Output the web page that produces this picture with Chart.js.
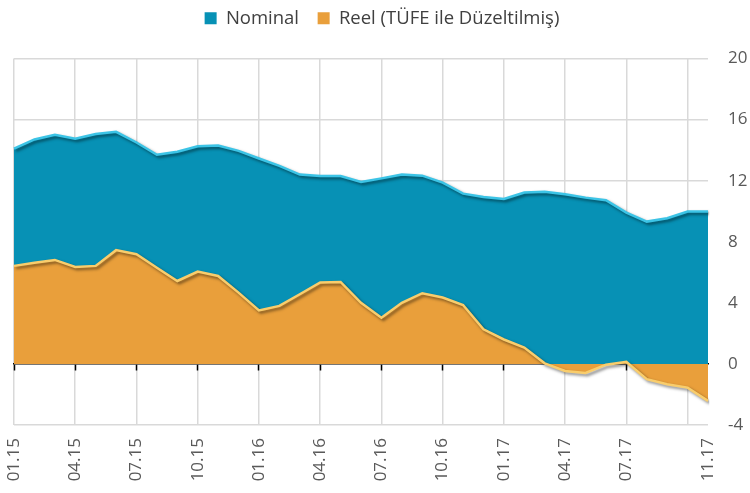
<!DOCTYPE html>
<html>
<head>
<meta charset="utf-8">
<script src="https://cdn.jsdelivr.net/npm/chart.js@4"></script>
<style>
  html, body { margin: 0; padding: 0; background: #fff; }
  #wrap { width: 750px; height: 493px; }
</style>
</head>
<body>
<div id="wrap"><canvas id="chart"></canvas></div>
<script>
// Monthly data, 01.15 - 11.17
const months = [
    '01.15', '02.15', '03.15', '04.15', '05.15', '06.15', '07.15', '08.15', '09.15', '10.15', '11.15', '12.15',
    '01.16', '02.16', '03.16', '04.16', '05.16', '06.16', '07.16', '08.16', '09.16', '10.16', '11.16', '12.16',
    '01.17', '02.17', '03.17', '04.17', '05.17', '06.17', '07.17', '08.17', '09.17', '10.17', '11.17'
];
const nominal = [
    14.1, 14.7, 15.0, 14.75, 15.05, 15.2, 14.5, 13.7, 13.9, 14.25, 14.3, 13.95,
    13.45, 12.97, 12.4, 12.3, 12.3, 11.92, 12.15, 12.4, 12.33, 11.87, 11.15, 10.93,
    10.8, 11.22, 11.28, 11.11, 10.89, 10.72, 9.91, 9.32, 9.54, 9.98, 9.98
];
const reel = [
    6.42, 6.63, 6.81, 6.35, 6.42, 7.45, 7.18, 6.3, 5.43, 6.05, 5.76, 4.67,
    3.5, 3.8, 4.56, 5.33, 5.37, 4.0, 3.03, 4.0, 4.63, 4.35, 3.86, 2.27,
    1.6, 1.07, 0.04, -0.46, -0.59, -0.05, 0.13, -1.0, -1.33, -1.55, -2.42
];
// labels printed under the axis
const shownTicks = ['01.15', '04.15', '07.15', '10.15', '01.16', '04.16', '07.16', '10.16', '01.17', '04.17', '07.17', '11.17'];
const yTicks = [-4, 0, 4, 8, 12, 16, 20];

const FONT = "'Open Sans', sans-serif";

// soft shadow under each area, like the bevel look of the original
const shadowPlugin = {
    id: 'areaShadow',
    beforeDatasetDraw(chart) {
        const ctx = chart.ctx;
        ctx.save();
        ctx.shadowColor = 'rgba(0,0,0,0.5)';
        ctx.shadowBlur = 3;
        ctx.shadowOffsetX = 2;
        ctx.shadowOffsetY = 2;
    },
    afterDatasetDraw(chart) {
        chart.ctx.restore();
    }
};

// more room under the legend
const legendSpace = {
    id: 'legendSpace',
    beforeInit(chart) {
        const fit = chart.legend.fit;
        chart.legend.fit = function () {
            fit.call(this);
            this.height += 21;
        };
    }
};

const ctx = document.getElementById('chart').getContext('2d');
new Chart(ctx, {
    type: 'line',
    data: {
        labels: months,
        datasets: [
            {
                label: 'Nominal',
                data: nominal,
                order: 2,
                fill: 'origin',
                backgroundColor: '#0791b5',
                borderColor: '#3cc4e6',
                borderWidth: 2.5,
                pointRadius: 0,
                tension: 0
            },
            {
                label: 'Reel (TÜFE ile Düzeltilmiş)',
                data: reel,
                order: 1,
                fill: 'origin',
                backgroundColor: '#e99f3b',
                borderColor: '#f9cd6c',
                borderWidth: 2.5,
                pointRadius: 0,
                tension: 0
            }
        ]
    },
    options: {
        responsive: true,
        maintainAspectRatio: false,
        animation: false,
        layout: { padding: { left: 14, right: 0, top: 0, bottom: 2 } },
        plugins: {
            tooltip: { enabled: false },
            legend: {
                position: 'top',
                labels: {
                    sort: (a, b) => a.datasetIndex - b.datasetIndex,
                    generateLabels(chart) {
                        const items = Chart.defaults.plugins.legend.labels.generateLabels(chart);
                        items.forEach(item => {
                            item.lineWidth = 0;
                            item.strokeStyle = 'transparent';
                            if (item.datasetIndex === 0) item.text = item.text + '\u00a0\u00a0';
                        });
                        return items;
                    },
                    boxWidth: 12,
                    boxHeight: 12,
                    padding: 9,
                    color: '#404040',
                    font: { family: FONT, size: 18.5 }
                }
            }
        },
        scales: {
            x: {
                type: 'category',
                offset: false,
                border: { display: false },
                afterFit(scale) { scale.height = 66; },
                grid: {
                    drawTicks: false,
                    color: c => (c.index % 3 === 0 && c.index < months.length - 1) ? '#d9d9d9' : 'transparent',
                    lineWidth: 1.5
                },
                ticks: {
                    autoSkip: false,
                    minRotation: 90,
                    maxRotation: 90,
                    padding: 13,
                    color: '#595959',
                    font: { family: FONT, size: 17 },
                    callback(value) {
                        const lbl = months[value];
                        return shownTicks.includes(lbl) ? lbl : '';
                    }
                }
            },
            x2: {
                type: 'category',
                position: { y: 0 },
                offset: false,
                z: 1,
                border: { display: true, color: '#000', width: 1.5 },
                grid: {
                    drawOnChartArea: false,
                    drawTicks: true,
                    tickLength: 6,
                    tickWidth: 1.5,
                    tickColor: c => (c.index % 3 === 0) ? '#000' : 'transparent'
                },
                ticks: { display: false }
            },
            y: {
                position: 'right',
                min: -4,
                max: 20,
                afterFit(scale) { scale.width = 42; },
                afterBuildTicks(scale) {
                    scale.ticks = yTicks.map(v => ({ value: v }));
                },
                border: { display: false },
                grid: {
                    drawTicks: false,
                    color: '#d9d9d9',
                    lineWidth: 1.5
                },
                ticks: {
                    padding: 20,
                    color: '#595959',
                    font: { family: FONT, size: 17 }
                }
            }
        }
    },
    plugins: [shadowPlugin, legendSpace]
});
</script>
</body>
</html>
